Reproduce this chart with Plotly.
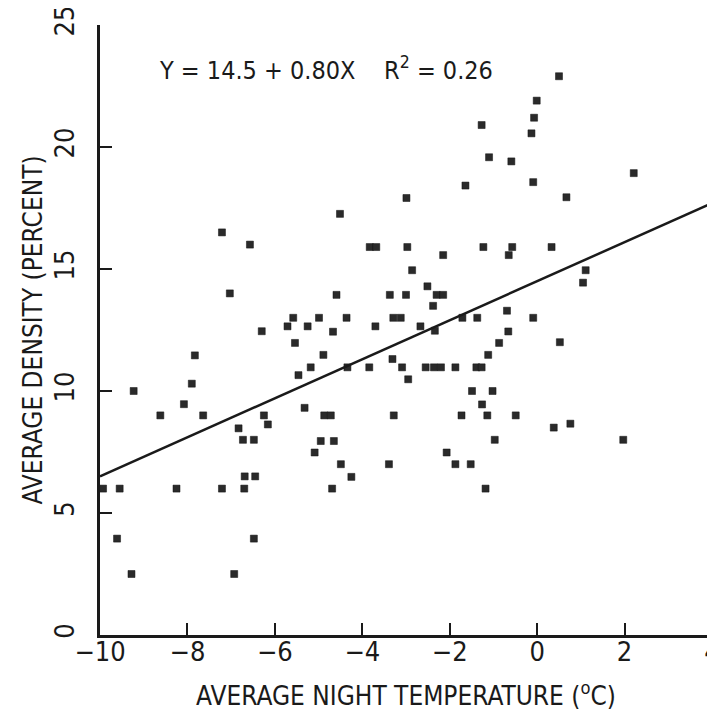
import plotly.graph_objs as go

# night temperature (deg C) and density (percent)
temp = [
    -7.21, -6.57, -7.03, -6.30, -5.71, -5.58, -5.54, -7.83, -5.46, -7.90,
    -9.23, -8.08, -8.62, -7.64, -6.25, -6.16, -6.83, -6.73, -6.48, -6.69,
    -6.45, -9.93, -9.55, -8.25, -7.21, -6.70, -9.61, -6.48, -9.28, -6.93,
    -1.27, -1.10, -1.64, -2.99, -4.51, -3.83, -3.68, -2.97, -1.23, -2.15,
    -2.86, -2.51, -4.59, -3.37, -3.00, -2.30, -2.15, -2.38, -5.25, -4.99,
    -4.67, -4.36, -3.70, -3.29, -3.12, -2.67, -2.34, -1.71, -1.37, -0.87,
    -4.89, -1.12, -5.18, -4.34, -3.84, -3.31, -3.09, -2.95, -2.55, -2.36,
    -2.20, -1.87, -1.39, -1.27, -1.49, -1.02, -1.26, -5.32, -4.87, -4.72,
    -3.28, -1.73, -1.14, -4.95, -4.65, -0.97, -5.09, -2.07, -4.49, -3.39,
    -1.87, -1.52, -4.25, -4.69, -1.18,
    0.50, -0.01, -0.07, -0.13, -0.59, 2.21, -0.09, 0.67, -0.57, -0.65,
    0.33, 1.11, 1.05, -0.69, -0.09, -0.66, 0.52, -0.49, 0.38, 0.76, 1.97,
]
density = [
    16.5, 16.0, 14.0, 12.45, 12.65, 13.0, 11.97, 11.46, 10.65, 10.3,
    10.0, 9.46, 9.0, 9.0, 9.0, 8.63, 8.47, 8.0, 8.0, 6.5,
    6.5, 6.0, 6.0, 6.0, 6.0, 6.0, 3.95, 3.95, 2.5, 2.5,
    20.9, 19.58, 18.42, 17.91, 17.26, 15.9, 15.9, 15.9, 15.9, 15.57,
    14.95, 14.29, 13.94, 13.94, 13.94, 13.94, 13.94, 13.49, 12.65, 13.0,
    12.43, 13.0, 12.65, 13.0, 13.0, 12.65, 12.47, 13.0, 13.0, 11.97,
    11.48, 11.48, 10.97, 10.97, 10.97, 11.31, 10.97, 10.48, 10.97, 10.97,
    10.97, 10.97, 10.97, 10.97, 10.0, 10.0, 9.45, 9.31, 9.0, 9.0,
    9.0, 9.0, 9.0, 7.95, 7.95, 8.0, 7.48, 7.48, 7.0, 7.0,
    7.0, 7.0, 6.48, 6.0, 6.0,
    22.9, 21.9, 21.2, 20.56, 19.41, 18.93, 18.56, 17.94, 15.9, 15.57,
    15.9, 14.95, 14.44, 13.29, 13.0, 12.44, 12.0, 9.0, 8.5, 8.66, 8.0,
]

intercept = 14.5
slope = 0.80
r2 = 0.26
fit_x = [-10, 4]
fit_y = [intercept + slope * x for x in fit_x]

x_ticks = [-10, -8, -6, -4, -2, 0, 2, 4]
y_ticks = [0, 5, 10, 15, 20, 25]

FONT = "DejaVu Sans Condensed, Liberation Sans Narrow, Arial Narrow, sans-serif"
INK = "#1a1a1a"

points = go.Scatter(
    x=temp,
    y=density,
    mode='markers',
    marker=dict(symbol='square', size=7, color='#2a2a2a',
                line=dict(color='#111111', width=0.5)),
    showlegend=False,
    cliponaxis=False,
)

fit = go.Scatter(
    x=fit_x,
    y=fit_y,
    mode='lines',
    line=dict(color=INK, width=2.5),
    showlegend=False,
)

# the page body adds an 8px offset, so margins are set 8px smaller on the left/top
layout = go.Layout(
    width=715,
    height=723,
    margin=dict(l=92, r=11, t=17, b=96),
    paper_bgcolor='white',
    plot_bgcolor='white',
    font=dict(family=FONT, color=INK),
    xaxis=dict(
        range=[-10, 4],
        tickvals=x_ticks,
        ticktext=[('\u2212' + str(-v)) if v < 0 else str(v) for v in x_ticks],
        ticks='inside', ticklen=12, tickwidth=2, tickcolor=INK,
        showline=True, linewidth=2.5, linecolor=INK,
        showgrid=False, zeroline=False,
        tickfont=dict(size=27),
        ticklabelstandoff=-9,
        ticklabeloverflow='allow',
        title=dict(text='AVERAGE NIGHT TEMPERATURE (<sup>o</sup>C)',
                   font=dict(size=26), standoff=21),
        automargin=False,
    ),
    yaxis=dict(
        range=[0, 25],
        tickvals=y_ticks,
        ticks='inside', ticklen=12, tickwidth=2, tickcolor=INK,
        tickangle=-90,
        showline=True, linewidth=2.5, linecolor=INK,
        showgrid=False, zeroline=False,
        tickfont=dict(size=27),
        ticklabelstandoff=12,
        ticklabeloverflow='allow',
        title=dict(text='AVERAGE DENSITY (PERCENT)',
                   font=dict(size=26), standoff=0),
        automargin=False,
    ),
    annotations=[dict(
        x=-8.7, y=23.2, xref='x', yref='y',
        xanchor='left', yanchor='middle', showarrow=False,
        text='Y = %.1f + %.2fX &nbsp;&nbsp; R<sup>2</sup> = %.2f' % (intercept, slope, r2),
        font=dict(size=25, family=FONT, color=INK),
    )],
)

fig = go.Figure(data=[points, fit], layout=layout)
fig.write_html("out.html")
